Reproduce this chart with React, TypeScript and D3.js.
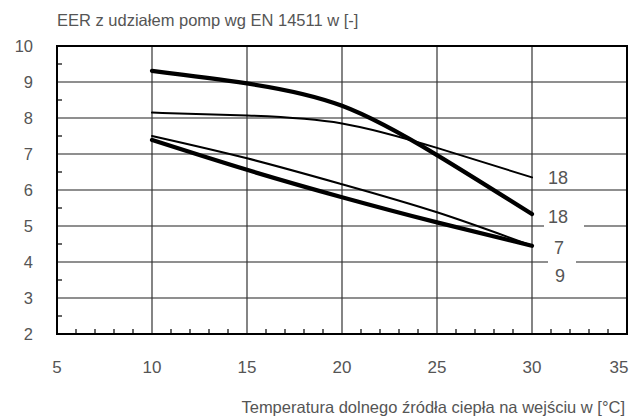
import React from "react";
import * as d3 from "d3";

const xTicks = [5, 10, 15, 20, 25, 30, 35];
const yTicks = [2, 3, 4, 5, 6, 7, 8, 9, 10];
const temps = [10, 15, 20, 25, 30];
const thick18 = [9.31, 8.96, 8.34, 6.97, 5.33];
const thin18 = [8.15, 8.07, 7.85, 7.17, 6.35];
const thin9 = [7.5, 6.88, 6.16, 5.38, 4.45];
const thick7 = [7.39, 6.56, 5.8, 5.1, 4.45];
const series = [
  { name: "thin18", values: thin18, width: 2, label: "18", lx: 558, lv: 6.33 },
  { name: "thin9", values: thin9, width: 2, label: "9", lx: 560, lv: 3.6 },
  { name: "thick18", values: thick18, width: 4.2, label: "18", lx: 558, lv: 5.25 },
  { name: "thick7", values: thick7, width: 4.2, label: "7", lx: 559, lv: 4.38 },
];
const yTitle = "EER z udziałem pomp wg EN 14511 w [-]";
const xTitle = "Temperatura dolnego źródła ciepła na wejściu w [°C]";

export default function App() {
  const W = 630, H = 419;
  const x = d3.scaleLinear().domain([5, 35]).range([57, 627]);
  const y = d3.scaleLinear().domain([2, 10]).range([334, 46]);
  const font = "'Liberation Sans', Arial, sans-serif";
  const txt = "#555";
  const minorX = d3.range(6, 35).filter((v) => v % 5 !== 0);
  const minorY = d3.range(2.5, 10, 1);
  const line = d3
    .line<number>()
    .x((_, i) => x(temps[i]))
    .y((v) => y(v))
    .curve(d3.curveNatural);
  return (
    <svg width={W} height={H} style={{ position: "absolute", left: 0, top: 0, background: "#fff" }}>
      {yTicks.slice(1, -1).map((v) => (
        <line key={"gy" + v} x1={x(5)} x2={x(35)} y1={y(v)} y2={y(v)} stroke="#6a6a6a" strokeWidth={1.4} />
      ))}
      {xTicks.slice(1, -1).map((v) => (
        <line key={"gx" + v} x1={x(v)} x2={x(v)} y1={y(2)} y2={y(10)} stroke="#333" strokeWidth={1.2} />
      ))}
      {minorX.map((v) => (
        <line key={"mx" + v} x1={x(v)} x2={x(v)} y1={y(2)} y2={y(2) - 5} stroke="#000" strokeWidth={1.2} />
      ))}
      {minorY.map((v) => (
        <line key={"my" + v} x1={x(5)} x2={x(5) + 5} y1={y(v)} y2={y(v)} stroke="#000" strokeWidth={1.2} />
      ))}
      <rect x={x(5)} y={y(10)} width={x(35) - x(5)} height={y(2) - y(10)} fill="none" stroke="#000" strokeWidth={2} />
      <rect x={544} y={y(5) - 3} width={40} height={6} fill="#fff" />
      <rect x={548} y={y(4) - 3} width={28} height={6} fill="#fff" />
      {series.map((s) => (
        <path key={s.name} d={line(s.values) || ""} fill="none" stroke="#000" strokeWidth={s.width} strokeLinecap="round" strokeLinejoin="round" />
      ))}
      {series.map((s) => (
        <text key={"l" + s.name} x={s.lx} y={y(s.lv)} fill={txt} fontSize={18} fontFamily={font} textAnchor="middle" dominantBaseline="central">
          {s.label}
        </text>
      ))}
      {yTicks.map((v) => (
        <text key={"ty" + v} x={33} y={y(v)} fill={txt} fontSize={16.5} fontFamily={font} textAnchor="end" dominantBaseline="central">
          {v}
        </text>
      ))}
      {xTicks.map((v) => (
        <text key={"tx" + v} x={Math.min(x(v), 619)} y={367} fill={txt} fontSize={17} fontFamily={font} textAnchor="middle" dominantBaseline="central">
          {v}
        </text>
      ))}
      <text x={57} y={20} fill={txt} fontSize={16.5} fontFamily={font} dominantBaseline="central">
        {yTitle}
      </text>
      <text x={625} y={407} fill={txt} fontSize={16.5} fontFamily={font} textAnchor="end" dominantBaseline="central">
        {xTitle}
      </text>
    </svg>
  );
}
